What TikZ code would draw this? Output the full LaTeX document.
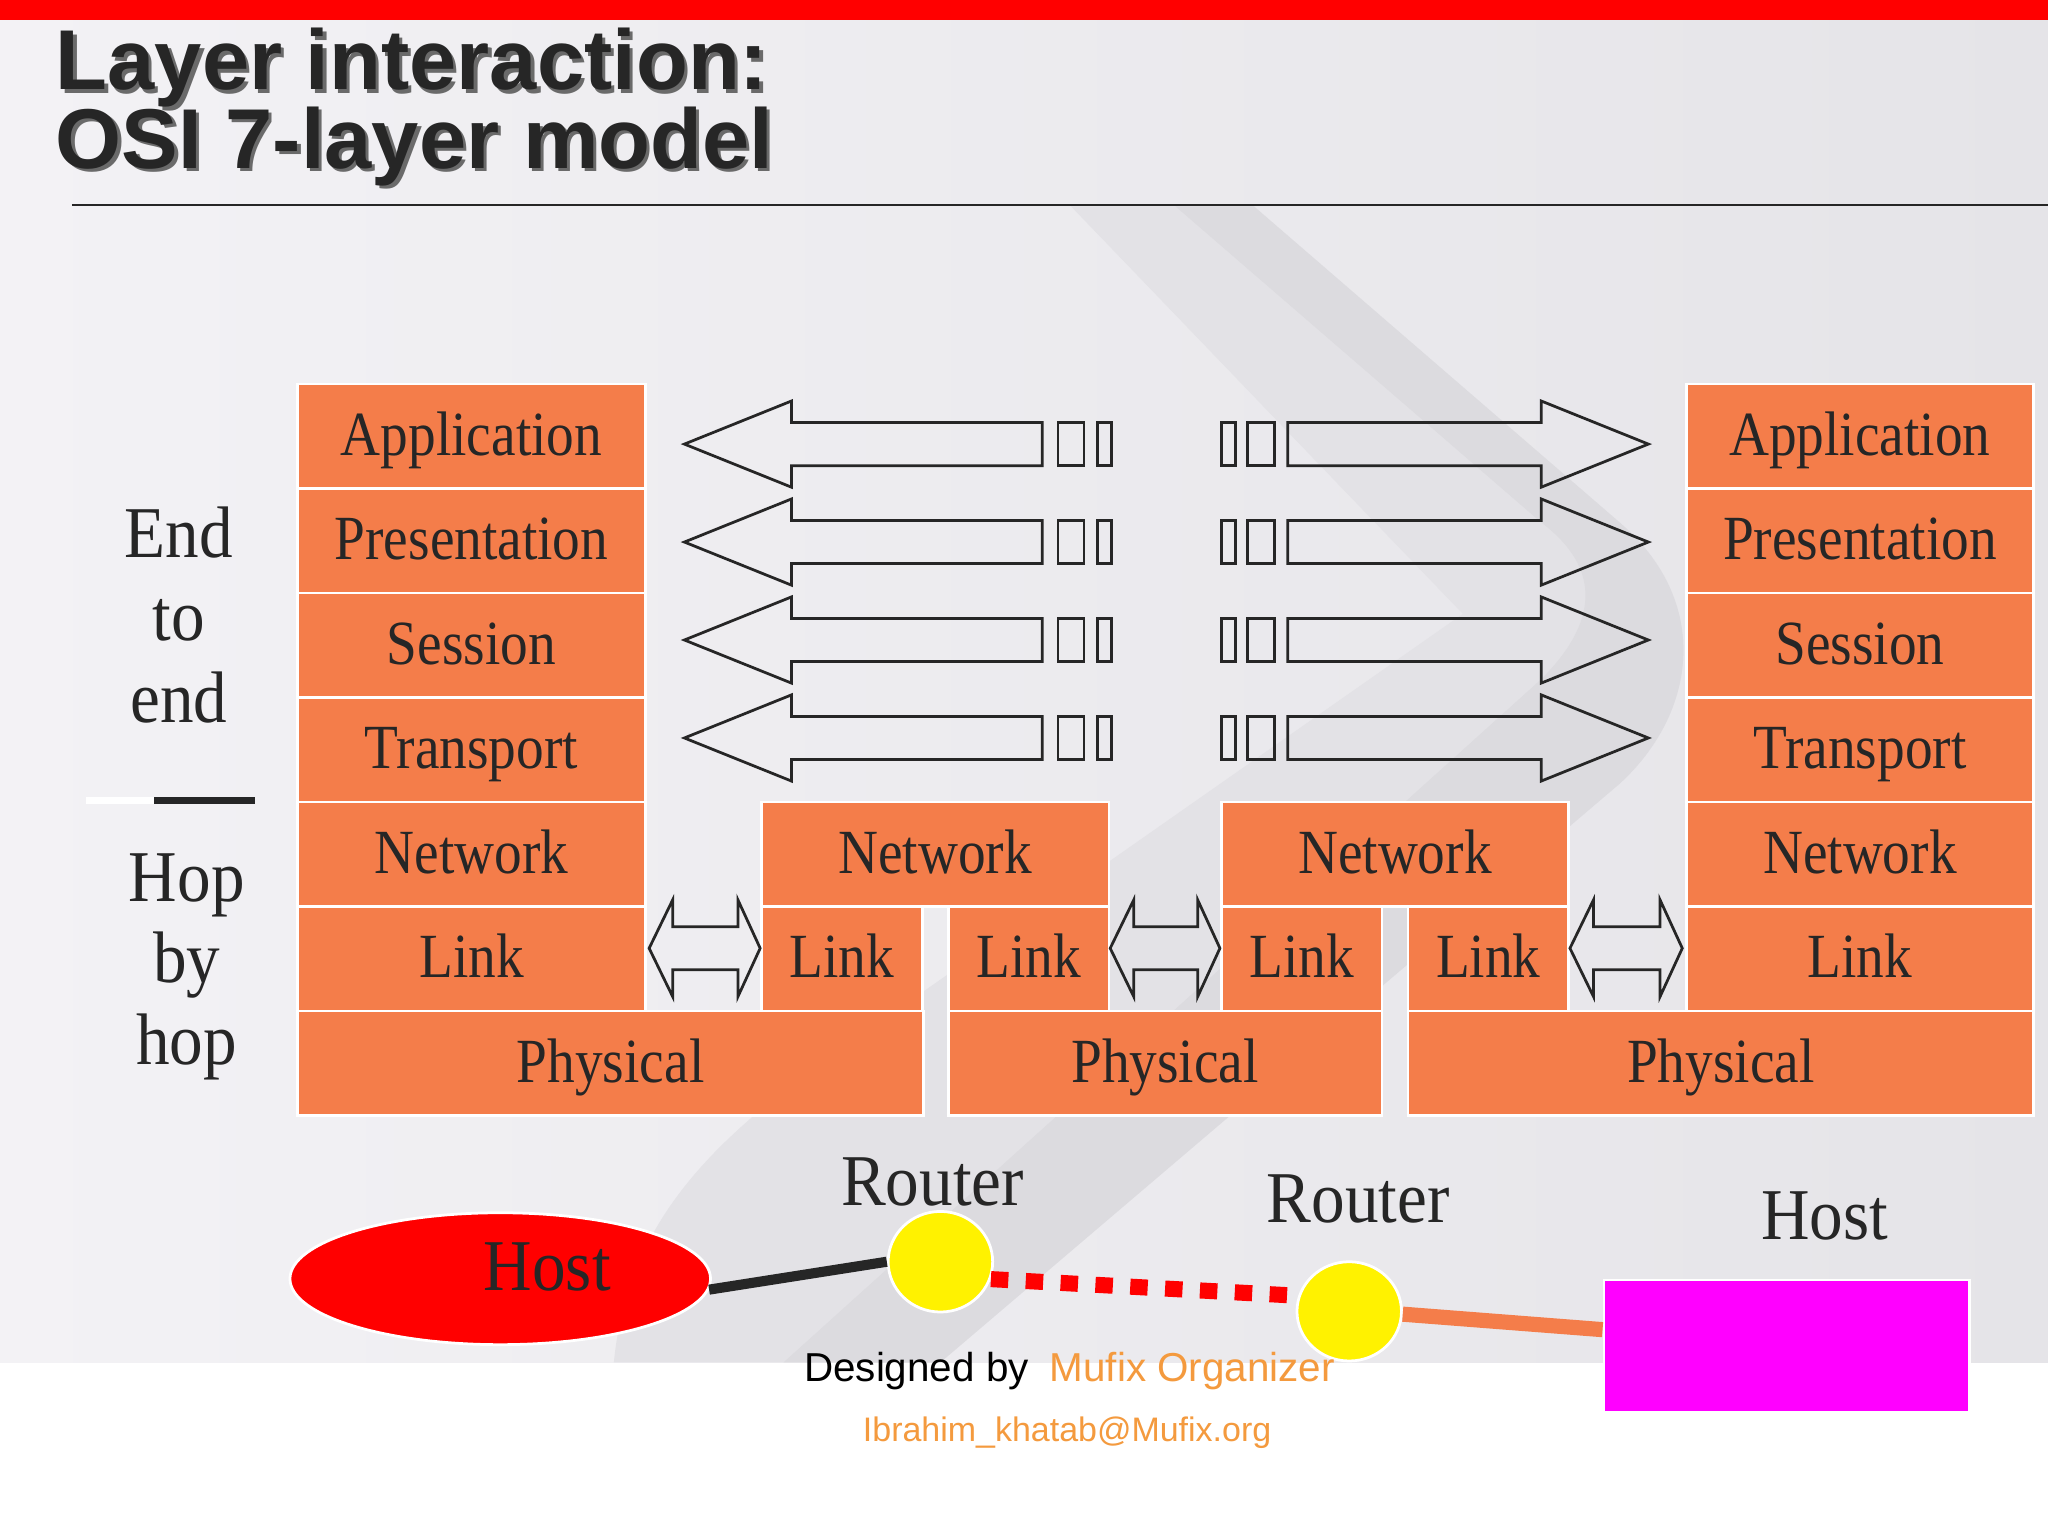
\documentclass[tikz,border=0pt]{standalone}
\usepackage{fontspec}
\usepackage{graphicx}
\setmainfont{Liberation Serif}
\setsansfont{Liberation Sans}
\usetikzlibrary{shapes.geometric}
\definecolor{lay}{HTML}{F47D4A}
\definecolor{ink}{HTML}{262626}
\definecolor{bgA}{HTML}{F3F2F5}
\definecolor{bgB}{HTML}{E5E4E8}
\definecolor{swA}{HTML}{E3E2E6}
\definecolor{swB}{HTML}{DCDBDF}
\definecolor{mufix}{HTML}{F49A3E}
\definecolor{hostmag}{HTML}{FF00FF}
\definecolor{shade}{HTML}{6A6A6A}
\newcommand{\sqz}[2][0.88]{\scalebox{#1}[1]{#2}}
\newcommand{\shd}[1]{\rlap{\kern0.25mm\raisebox{-0.26mm}{\color{shade}#1}}#1}
\begin{document}
\begin{tikzpicture}[x=0.1mm, y=-0.1mm,
 layer/.style={rectangle, fill=lay, draw=white, line width=0.6pt, minimum height=8mm, inner sep=0pt, text=ink, font=\fontsize{13.7}{15}\selectfont, text height=11pt, text depth=2.74pt},
 bigtxt/.style={text=ink, inner sep=0pt, anchor=base, font=\fontsize{15.9}{17}\selectfont},
 pdu/.style={draw=ink, line width=0.6pt, line join=miter},
 titletxt/.style={inner sep=0pt, text=ink, align=left, font=\sffamily\bfseries\fontsize{18.5}{16.93}\selectfont},
 foot/.style={inner sep=0pt, anchor=base west, font=\sffamily\fontsize{8.8}{10}\selectfont}]
\useasboundingbox (0,0) rectangle (1568,1176);
% background
\fill[white] (0,0) rectangle (1568,1176);
\fill[left color=bgA, right color=bgB] (0,15) rectangle (1568,1043);
\fill[swA] (820,158) -- (960,158) -- (1240,400) .. controls (1310,460) and (1300,545) .. (1240,600) -- (720,1043) -- (470,1043) .. controls (480,940) and (540,880) .. (620,820) -- (1120,470) -- cycle;
\fill[swB] (900,158) -- (960,158) -- (1240,400) .. controls (1310,460) and (1300,545) .. (1240,600) -- (720,1043) -- (600,1043) -- (1180,520) .. controls (1230,470) and (1220,430) .. (1180,400) -- cycle;
\fill[red] (0,0) rectangle (1568,15);
% title
\node[titletxt, anchor=base west] (title) at (42,128.9) {\shd{Layer interaction:}\\[-1.9pt]\shd{OSI 7-layer model}};
\coordinate (ruleA) at (55,157);
\coordinate (ruleB) at (1568,157);
\draw[ink, line width=0.6pt] (ruleA) -- (ruleB);
% left host stack
\node[layer, minimum width=26.6mm] (hA) at (361,334) {\sqz{Application}};
\node[layer, minimum width=26.6mm] (hP) at (361,414) {\sqz{Presentation}};
\node[layer, minimum width=26.6mm] (hS) at (361,494) {\sqz{Session}};
\node[layer, minimum width=26.6mm] (hT) at (361,574) {\sqz{Transport}};
\node[layer, minimum width=26.6mm] (hN) at (361,654) {\sqz{Network}};
\node[layer, minimum width=26.6mm] (hL) at (361,734) {\sqz{Link}};
\node[layer, minimum width=47.9mm] (hPh) at (467.5,814) {\sqz{Physical}};
% router 1
\node[layer, minimum width=26.6mm] (r1N) at (716,654) {\sqz{Network}};
\node[layer, minimum width=12.3mm] (r1La) at (644.5,734) {\sqz{Link}};
\node[layer, minimum width=12.3mm] (r1Lb) at (787.5,734) {\sqz{Link}};
\node[layer, minimum width=33.2mm] (r1Ph) at (892,814) {\sqz{Physical}};
% router 2
\node[layer, minimum width=26.6mm] (r2N) at (1068,654) {\sqz{Network}};
\node[layer, minimum width=12.3mm] (r2La) at (996.5,734) {\sqz{Link}};
\node[layer, minimum width=12.3mm] (r2Lb) at (1139.5,734) {\sqz{Link}};
\node[layer, minimum width=47.9mm] (r2Ph) at (1317.5,814) {\sqz{Physical}};
% right host stack
\node[layer, minimum width=26.6mm] (gA) at (1424,334) {\sqz{Application}};
\node[layer, minimum width=26.6mm] (gP) at (1424,414) {\sqz{Presentation}};
\node[layer, minimum width=26.6mm] (gS) at (1424,494) {\sqz{Session}};
\node[layer, minimum width=26.6mm] (gT) at (1424,574) {\sqz{Transport}};
\node[layer, minimum width=26.6mm] (gN) at (1424,654) {\sqz{Network}};
\node[layer, minimum width=26.6mm] (gL) at (1424,734) {\sqz{Link}};
% end-to-end arrows
\foreach \c in {340,415,490,565}{
 \draw[pdu] (524,\c) -- (606,{\c-33}) -- (606,{\c-16.5}) -- (798,{\c-16.5}) -- (798,{\c+16.5}) -- (606,{\c+16.5}) -- (606,{\c+33}) -- cycle;
 \draw[pdu] (810,{\c-16.5}) rectangle (830,{\c+16.5});
 \draw[pdu] (840,{\c-16.5}) rectangle (851,{\c+16.5});
 \draw[pdu] (935,{\c-16.5}) rectangle (946,{\c+16.5});
 \draw[pdu] (955,{\c-16.5}) rectangle (976,{\c+16.5});
 \draw[pdu] (1262,\c) -- (1180,{\c-33}) -- (1180,{\c-16.5}) -- (986,{\c-16.5}) -- (986,{\c+16.5}) -- (1180,{\c+16.5}) -- (1180,{\c+33}) -- cycle;
}
% hop-by-hop arrows
\foreach \a/\b in {497/582,850/934,1202/1288}{
 \draw[pdu] (\a,726) -- ({\a+18},689) -- ({\a+18},709.5) -- ({\b-17},709.5) -- ({\b-17},689) -- (\b,726) -- ({\b-17},763) -- ({\b-17},742.5) -- ({\a+18},742.5) -- ({\a+18},763) -- cycle;
}
% side labels
\node[bigtxt] (e1) at (137,427) {\sqz[0.92]{End}};
\node[bigtxt] (e2) at (137,490) {\sqz[0.92]{to}};
\node[bigtxt] (e3) at (137,553) {\sqz[0.92]{end}};
\node[bigtxt] (h1) at (143,690) {\sqz[0.92]{Hop}};
\node[bigtxt] (h2) at (143,752) {\sqz[0.92]{by}};
\node[bigtxt] (h3) at (143,815) {\sqz[0.92]{hop}};
\coordinate (dA) at (66,613);
\coordinate (dB) at (118,613);
\coordinate (dC) at (195,613);
\draw[white, line width=1.4pt] (dA) -- (dB);
\draw[ink, line width=1.4pt] (dB) -- (dC);
% bottom network
\node[ellipse, fill=red, draw=white, line width=0.6pt, minimum width=32.2mm, minimum height=10.1mm, inner sep=0pt] (hostL) at (383,979) {};
\node[ellipse, fill=yellow, draw=white, line width=0.6pt, minimum width=8mm, minimum height=7.7mm, inner sep=0pt] (r1) at (720,966) {};
\node[ellipse, fill=yellow, draw=white, line width=0.6pt, minimum width=8mm, minimum height=7.6mm, inner sep=0pt] (r2) at (1033,1004) {};
\node[rectangle, fill=hostmag, draw=white, line width=0.6pt, minimum width=28mm, minimum height=10.1mm, inner sep=0pt] (hostR) at (1368,1030.5) {};
\draw[ink, line width=2.2pt] (hostL.-3) -- (r1.west);
\draw[red, line width=3.5pt, dash pattern=on 3.8pt off 3.8pt] (r1.-19) -- (r2.163);
\draw[lay, line width=3.3pt] (r2.-3) -- ([yshift=1.25mm]hostR.west);
\node[bigtxt] (hostLt) at (419,988) {\sqz[0.92]{Host}};
\node[bigtxt] (rt1) at (714,923) {\sqz[0.92]{Router}};
\node[bigtxt] (rt2) at (1040,936) {\sqz[0.92]{Router}};
\node[bigtxt] (hostRt) at (1397,949) {\sqz[0.92]{Host}};
% footer
\node[foot, text=black] (f1) at (615,1058) {Designed by};
\node[foot, text=mufix] (f2) at (803,1058) {Mufix Organizer};
\node[foot, text=mufix, font=\sffamily\fontsize{7.4}{9}\selectfont] (f3) at (660,1104) {Ibrahim\_khatab@Mufix.org};
\end{tikzpicture}
\end{document}
